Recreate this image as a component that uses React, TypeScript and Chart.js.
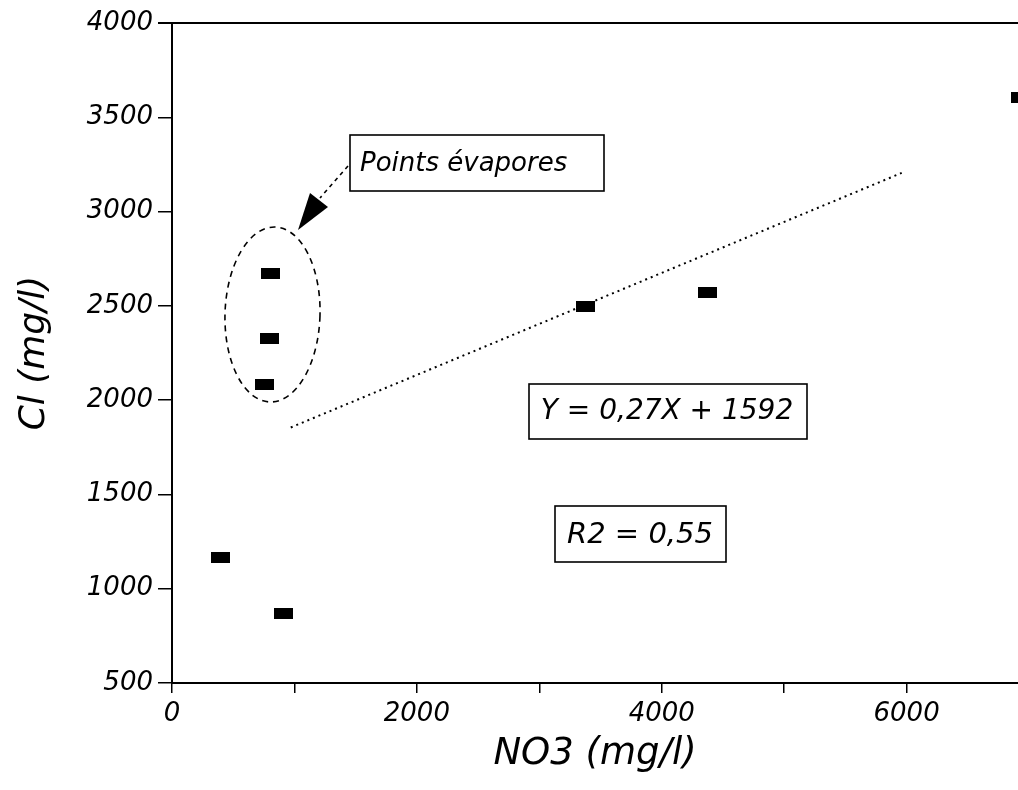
import React, { useEffect, useRef } from 'react';
import { Chart, registerables } from 'chart.js';

Chart.register(...registerables);

// NO3 (mg/l) and Cl (mg/l) for each sample
const no3Values = [400, 910, 808, 800, 755, 3380, 4370, 6930];
const clValues = [1165, 870, 2672, 2328, 2085, 2495, 2573, 3605];

// regression line Y = 0,27X + 1592 (end points)
const trendX = [970, 5960];
const trendY = [1855, 3205];

const xTickValues = [0, 1000, 2000, 3000, 4000, 5000, 6000];
const xLabeledTicks = [0, 2000, 4000, 6000];
const yTickValues = [500, 1000, 1500, 2000, 2500, 3000, 3500, 4000];

const xTitle = 'NO3 (mg/l)';
const yTitle = 'Cl (mg/l)';
const noteEvap = 'Points évapores';
const noteEq = 'Y = 0,27X + 1592';
const noteR2 = 'R2 = 0,55';

const FAMILY = '"DejaVu Sans", "Liberation Sans", sans-serif';

export default function App() {
  const ref = useRef<HTMLCanvasElement>(null);

  useEffect(() => {
    const canvas = ref.current!;
    const marker = document.createElement('canvas');
    marker.width = 19;
    marker.height = 11;
    const mctx = marker.getContext('2d')!;
    mctx.fillStyle = '#000';
    mctx.fillRect(0, 0, 19, 11);

    const annot = {
      id: 'annot',
      afterDraw(chart: any) {
        const ctx = chart.ctx as CanvasRenderingContext2D;
        const { left, top } = chart.chartArea;
        ctx.save();
        ctx.strokeStyle = '#000';
        ctx.fillStyle = '#000';

        // top frame line
        ctx.lineWidth = 2;
        ctx.beginPath();
        ctx.moveTo(left - 14, top);
        ctx.lineTo(chart.width, top);
        ctx.stroke();

        // dashed ellipse around evaporated points
        ctx.lineWidth = 1.6;
        ctx.setLineDash([6, 5]);
        ctx.beginPath();
        ctx.ellipse(272.5, 314.5, 47.5, 87.5, 0.03, 0, Math.PI * 2);
        ctx.stroke();

        // dashed arrow shaft
        ctx.setLineDash([4, 4]);
        ctx.beginPath();
        ctx.moveTo(348, 166);
        ctx.lineTo(320, 198);
        ctx.stroke();
        ctx.setLineDash([]);
        // arrow head
        ctx.beginPath();
        ctx.moveTo(298, 230);
        ctx.lineTo(310, 193);
        ctx.lineTo(328, 207);
        ctx.closePath();
        ctx.fill();

        // boxes
        ctx.lineWidth = 1.6;
        ctx.strokeRect(350, 135, 254, 56);
        ctx.strokeRect(529, 384, 278, 55);
        ctx.strokeRect(555, 506, 171, 56);

        ctx.textBaseline = 'middle';
        ctx.font = `italic 26px ${FAMILY}`;
        ctx.textAlign = 'left';
        ctx.fillText(noteEvap, 360, 164);
        ctx.textAlign = 'center';
        ctx.font = `italic 28px ${FAMILY}`;
        ctx.fillText(noteEq, 667, 412);
        ctx.font = `italic 29px ${FAMILY}`;
        ctx.fillText(noteR2, 640, 535);
        ctx.restore();
      },
    };

    const tickFont = { family: FAMILY, size: 26, style: 'italic' as const };

    const chart = new Chart(canvas, {
      type: 'scatter',
      data: {
        datasets: [
          {
            data: no3Values.map((x, i) => ({ x, y: clValues[i] })),
            pointStyle: marker as any,
            pointRadius: 6,
            pointHoverRadius: 6,
            backgroundColor: '#000',
            borderColor: '#000',
            clip: false as any,
          },
          {
            data: trendX.map((x, i) => ({ x, y: trendY[i] })),
            showLine: true,
            pointRadius: 0,
            pointHoverRadius: 0,
            borderColor: '#000',
            borderWidth: 2,
            borderDash: [2, 4],
            fill: false,
          },
        ],
      },
      options: {
        responsive: false,
        animation: false,
        events: [],
        layout: { autoPadding: false, padding: { top: 23, left: 0, right: 0, bottom: 0 } },
        plugins: { legend: { display: false }, tooltip: { enabled: false } },
        scales: {
          x: {
            type: 'linear',
            min: 0,
            max: 6910,
            bounds: 'data',
            afterBuildTicks: (s: any) => {
              s.ticks = xTickValues.map((v) => ({ value: v }));
            },
            ticks: {
              autoSkip: false,
              maxRotation: 0,
              color: '#000',
              padding: 6,
              font: tickFont,
              callback: (v: any) => (xLabeledTicks.includes(Number(v)) ? String(v) : ''),
            },
            grid: { drawOnChartArea: false, drawTicks: true, tickLength: 10, color: '#000', lineWidth: 1.5 },
            border: { display: true, color: '#000', width: 2 },
            title: {
              display: true,
              text: xTitle,
              color: '#000',
              font: { family: FAMILY, size: 37, style: 'italic' },
              padding: { top: 0, bottom: 13 },
            },
            afterFit: (s: any) => {
              s.height = 107;
            },
          },
          y: {
            type: 'linear',
            min: 500,
            max: 4000,
            bounds: 'data',
            afterBuildTicks: (s: any) => {
              s.ticks = yTickValues.map((v) => ({ value: v }));
            },
            ticks: {
              color: '#000',
              padding: 5,
              font: tickFont,
              callback: (v: any) => String(v),
            },
            grid: { drawOnChartArea: false, drawTicks: true, tickLength: 14, color: '#000', lineWidth: 1.5 },
            border: { display: true, color: '#000', width: 2 },
            title: {
              display: true,
              text: yTitle,
              color: '#000',
              font: { family: FAMILY, size: 36, style: 'italic' },
              padding: { top: 13, bottom: 0 },
            },
            afterFit: (s: any) => {
              s.width = 172;
            },
          },
        },
      },
      plugins: [annot],
    });

    return () => chart.destroy();
  }, []);

  return (
    <canvas
      ref={ref}
      width={1018}
      height={790}
      style={{ position: 'fixed', left: 0, top: 0, background: '#fff' }}
    />
  );
}
